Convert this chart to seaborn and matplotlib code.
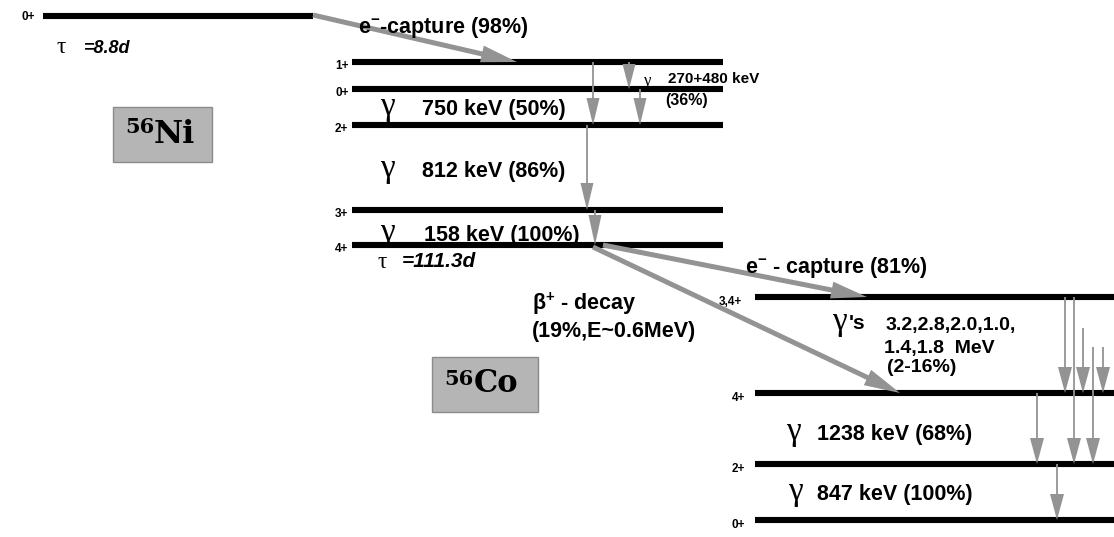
import matplotlib
matplotlib.use("Agg")
import matplotlib.pyplot as plt
from matplotlib.patches import Rectangle
import pandas as pd
import seaborn as sns

# ---- decay-scheme data (schematic level heights, increasing downward) ----
ni_spins = ["0+"]
ni_levels = [16]

co_spins = ["1+", "0+", "2+", "3+", "4+"]
co_levels = [62, 89, 125, 210, 245]

fe_spins = ["3,4+", "4+", "2+", "0+"]
fe_levels = [297, 393, 464, 520]

# gamma cascades in 56Co (start / end heights)
co_gamma_top = [62, 62, 89, 125, 210]
co_gamma_bottom = [125, 89, 125, 210, 245]

# gamma cascades in 56Fe (start / end heights)
fe_gamma_top = [297, 297, 328, 347, 347, 393, 464]
fe_gamma_bottom = [393, 464, 393, 464, 393, 464, 520]

co_gamma_labels = ["750 keV (50%)", "812 keV (86%)", "158 keV (100%)"]
fe_gamma_labels = ["1238 keV (68%)", "847 keV (100%)"]
fe_multi_labels = ["3.2,2.8,2.0,1.0,", "1.4,1.8  MeV", "(2-16%)"]
lifetimes = ["=8.8d", "=111.3d"]
nuclides = ["Ni", "Co"]
mass_number = "56"

# ---- styling ----
sns.set_theme(style="white")
plt.rcParams["font.family"] = ["Liberation Sans", "DejaVu Sans"]
plt.rcParams["text.color"] = "black"
plt.rcParams["mathtext.fontset"] = "custom"
plt.rcParams["mathtext.rm"] = "Liberation Sans:bold"
plt.rcParams["mathtext.it"] = "Liberation Sans:bold"
plt.rcParams["mathtext.bf"] = "Liberation Sans:bold"
GRAY = "#939393"
BOX = "#b5b5b5"
SERIF = ["Liberation Serif", "DejaVu Serif"]
HEAVY_SERIF = ["DejaVu Serif"]

fig = plt.figure(figsize=(11.14, 5.37), dpi=100)
ax = fig.add_axes([0, 0, 1, 1])
ax.set_xlim(0, 1114)
ax.set_ylim(537, 0)

# ---- energy levels ----
spans = {"ni": (43, 313), "co": (352, 723), "fe": (755, 1114)}
rows = []
for key, levels in (("ni", ni_levels), ("co", co_levels), ("fe", fe_levels)):
    x0, x1 = spans[key]
    for i, y in enumerate(levels):
        uid = f"{key}{i}"
        rows.append({"x": x0, "y": y, "level": uid})
        rows.append({"x": x1, "y": y, "level": uid})
df = pd.DataFrame(rows)
sns.lineplot(data=df, x="x", y="y", units="level", estimator=None, sort=False,
             color="black", lw=4.4, legend=False, ax=ax, zorder=2,
             solid_capstyle="butt")

# spin labels
for s, y in zip(ni_spins, ni_levels):
    ax.text(22, y + 1, s, fontsize=8.5, fontweight="bold", va="center")
for s, y in zip(co_spins, co_levels):
    ax.text(335, y + 4, s, fontsize=8.5, fontweight="bold", va="center")
for s, y in zip(fe_spins, fe_levels):
    xs = 719 if len(s) > 2 else 732
    ax.text(xs, y + 5, s, fontsize=8.5, fontweight="bold", va="center")


def thin_arrow(x, y0, y1, hl=27, hw=13):
    ax.arrow(x, y0, 0, y1 - y0, width=1.8, head_width=hw, head_length=hl,
             length_includes_head=True, fc=GRAY, ec="none", zorder=3)


def wide_arrow(x0, y0, x1, y1):
    ax.arrow(x0, y0, x1 - x0, y1 - y0, width=5, head_width=17, head_length=36,
             length_includes_head=True, fc=GRAY, ec="none", zorder=3)


# ---- decays ----
wide_arrow(313, ni_levels[0] - 1, 517, co_levels[0])
wide_arrow(603, co_levels[4], 867, fe_levels[0])
wide_arrow(593, co_levels[4] + 2, 900, fe_levels[1])

co_gamma_x = [593, 629, 640, 587, 595]
co_head = [27, 25, 27, 27, 30]
for x, t, b, hl in zip(co_gamma_x, co_gamma_top, co_gamma_bottom, co_head):
    thin_arrow(x, t, b, hl=hl)

fe_gamma_x = [1065, 1074, 1083, 1093, 1103, 1037, 1057]
for x, t, b in zip(fe_gamma_x, fe_gamma_top, fe_gamma_bottom):
    thin_arrow(x, t, b, hl=26, hw=14)

# ---- nuclide boxes ----
boxes = [(113, 107, 99, 55), (432, 357, 106, 55)]
mass_pos = [(125, 133, 15), (444, 385, 15)]
name_pos = [(154, 143, 23), (474, 392, 22)]
for (bx, by, bw, bh), (mx, my, ms), (nx, ny, ns), name in zip(boxes, mass_pos, name_pos, nuclides):
    ax.add_patch(Rectangle((bx, by), bw, bh, fc=BOX, ec="#8a8a8a", lw=1, zorder=1))
    ax.text(mx, my, mass_number, fontsize=ms, fontweight="bold",
            family=HEAVY_SERIF, va="baseline", ha="left")
    ax.text(nx, ny, name, fontsize=ns, fontweight="bold",
            family=HEAVY_SERIF, va="baseline", ha="left")

# ---- annotations ----
TXT = dict(fontsize=15.5, fontweight="bold", va="baseline", ha="left")
GAM = dict(fontsize=24, family=SERIF, va="baseline", ha="left")
ITAL = dict(fontweight="bold", style="italic", va="baseline", ha="left")

ax.text(57, 53, "τ", fontsize=17, family=SERIF, va="baseline")
ax.text(84, 53, lifetimes[0], fontsize=13, **ITAL)
ax.text(378, 268, "τ", fontsize=17, family=SERIF, va="baseline")
ax.text(402, 267, lifetimes[1], fontsize=15, **ITAL)

ax.text(358, 33, r"e$^{-}$-capture (98%)", **TXT)

ax.text(380, 115, "γ", **GAM)
ax.text(422, 115, co_gamma_labels[0], **TXT)
ax.text(380, 177, "γ", **GAM)
ax.text(422, 177, co_gamma_labels[1], **TXT)
ax.text(380, 241, "γ", **GAM)
ax.text(424, 241, co_gamma_labels[2], **TXT)

ax.text(644, 85, "γ", fontsize=12, family=SERIF, va="baseline")
ax.text(668, 83, "270+480 keV", fontsize=11, fontweight="bold", va="baseline")
ax.text(665, 105, "(36%)", fontsize=11.5, fontweight="bold", va="baseline")

ax.text(745, 273, r"e$^{-}$ - capture (81%)", **TXT)
ax.text(532, 310, "β$^{+}$ - decay", **TXT)
ax.text(532, 337, "(19%,E~0.6MeV)", **TXT)

ax.text(832, 330, "γ", **GAM)
ax.text(849, 329, "'s", fontsize=15, fontweight="bold", va="baseline")
ax.text(886, 330, fe_multi_labels[0], fontsize=14, fontweight="bold", va="baseline")
ax.text(884, 353, fe_multi_labels[1], fontsize=14, fontweight="bold", va="baseline")
ax.text(887, 372, fe_multi_labels[2], fontsize=14, fontweight="bold", va="baseline")

ax.text(786, 440, "γ", **GAM)
ax.text(817, 440, fe_gamma_labels[0], **TXT)
ax.text(788, 500, "γ", **GAM)
ax.text(817, 500, fe_gamma_labels[1], **TXT)

ax.axis("off")
fig.savefig("out.png", dpi=100, facecolor="white")
